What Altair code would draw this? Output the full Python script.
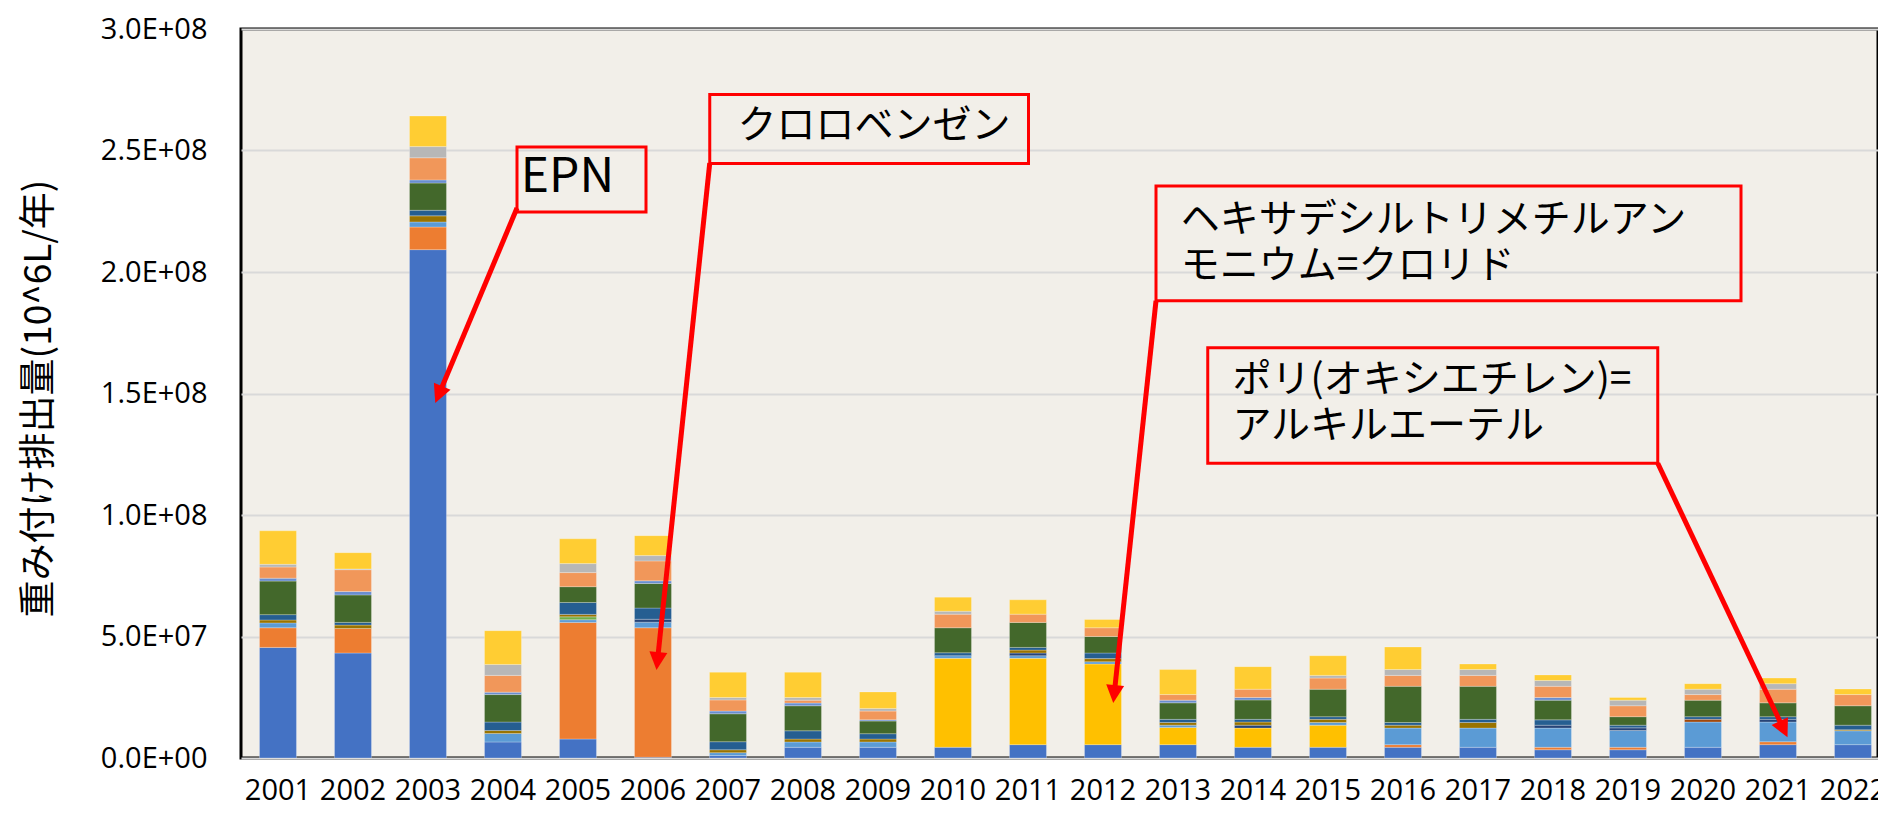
import json
import math
import altair as alt
import pandas as pd

# ---------------- data (values in 10^6 units, multiplied below) ----------------
years = [str(y) for y in range(2001, 2023)]

series_names = [
    "EPN", "クロロベンゼン", "系列3", "ヘキサデシルトリメチルアンモニウム=クロリド",
    "ポリ(オキシエチレン)=アルキルエーテル", "系列6", "系列7", "系列8", "系列9",
    "系列10", "系列11", "系列12", "系列13", "系列14", "系列15", "系列16",
]
series_colors = [
    "#4472C4", "#ED7D31", "#A5A5A5", "#FFC000", "#5B9BD5", "#70AD47", "#264478", "#9E480E",
    "#636363", "#997300", "#255E91", "#43682B", "#698ED0", "#F1975A", "#B7B7B7", "#FFCD33",
]

s01 = [45.5, 43.2, 209.2, 6.6, 7.8, 0.3, 1.0, 4.4, 4.4, 4.4, 5.5, 5.5, 5.5, 4.4, 4.4, 4.4, 4.4, 3.4, 3.4, 4.4, 5.5, 5.5]
s02 = [8.1, 10.1, 9.3, 0, 48.0, 53.3, 0, 0, 0, 0, 0, 0, 0, 0, 0, 1.1, 0, 1.0, 1.0, 0, 1.2, 0]
s03 = [0] * 22
s04 = [0, 0, 0, 0, 0, 0, 0, 0, 0, 36.6, 35.5, 33.2, 7.1, 7.9, 9.1, 0, 0, 0, 0, 0, 0, 0]
s05 = [2.0, 0, 2.1, 3.5, 1.1, 2.3, 1.2, 2.2, 2.2, 1.1, 1.1, 0.9, 0.9, 0, 1.1, 6.8, 7.9, 7.9, 6.9, 10.4, 8.1, 5.7]
s06 = [0, 0, 0, 0, 1.2, 0, 0, 0, 0, 0, 0, 0, 0, 0, 0, 0, 0, 0, 0, 0, 0, 0]
s07 = [0, 0, 0, 0, 0, 1.2, 0, 0, 0, 0, 1.1, 0, 0, 1.2, 0, 0, 0, 1.2, 1.1, 0, 1.1, 0]
s08 = [0, 0, 0, 0, 0, 0, 0, 0, 0, 0, 0, 0, 0, 0, 0, 0, 0, 0, 0, 1.1, 0, 0]
s09 = [0] * 22
s10 = [1.2, 1.4, 2.5, 1.2, 1.0, 0, 1.2, 1.2, 1.2, 0, 1.2, 1.3, 1.1, 1.3, 1.3, 1.2, 2.3, 0, 0, 0, 0, 0.4]
s11 = [2.2, 1.1, 2.3, 3.5, 4.9, 4.6, 3.3, 3.4, 2.2, 1.2, 1.1, 2.3, 1.3, 1.1, 1.1, 1.1, 1.3, 2.2, 1.1, 1.1, 1.1, 1.9]
s12 = [13.8, 11.3, 11.2, 11.3, 6.5, 10.1, 11.5, 10.3, 5.2, 10.3, 10.3, 6.8, 6.8, 8.0, 11.3, 14.9, 13.6, 8.1, 3.5, 6.8, 5.7, 8.0]
s13 = [1.2, 1.4, 1.3, 1.0, 0, 1.1, 1.1, 1.1, 0.5, 0, 0, 0, 1.1, 1.0, 0, 0, 0, 1.1, 0, 0, 0, 0]
s14 = [4.6, 9.0, 9.1, 6.9, 5.8, 8.2, 4.6, 1.2, 3.6, 5.6, 3.4, 3.6, 2.3, 3.4, 4.6, 4.5, 4.5, 4.6, 4.5, 2.3, 5.6, 4.6]
s15 = [1.1, 0.3, 4.6, 4.5, 3.7, 2.2, 1.0, 1.1, 1.1, 1.2, 0, 0, 0, 0, 1.1, 2.4, 2.4, 2.4, 2.3, 2.2, 2.3, 0]
s16 = [13.8, 6.7, 12.6, 13.9, 10.2, 8.2, 10.4, 10.4, 6.8, 5.8, 5.9, 3.4, 10.3, 9.3, 8.1, 9.3, 2.3, 2.3, 1.1, 2.3, 2.3, 2.3]
series_values = [s01, s02, s03, s04, s05, s06, s07, s08, s09, s10, s11, s12, s13, s14, s15, s16]
UNIT = 1e6

y_tick_values = [0, 5e7, 1e8, 1.5e8, 2e8, 2.5e8, 3e8]
y_tick_labels = ["0.0E+00", "5.0E+07", "1.0E+08", "1.5E+08", "2.0E+08", "2.5E+08", "3.0E+08"]
y_title = "重み付け排出量(10^6L/年)"

# annotations: x in band units (year i centre = i + 0.5), y in 10^6 units
box_x1 = [3.68, 6.25, 12.20, 12.89]
box_x2 = [5.40, 10.50, 20.00, 18.89]
box_y1 = [251.4, 273.0, 235.4, 168.8]
box_y2 = [224.7, 244.7, 188.2, 121.3]

text_lines = ["EPN", "クロロベンゼン", "ヘキサデシルトリメチルアン\nモニウム=クロリド",
              "ポリ(オキシエチレン)=\nアルキルエーテル"]
text_x = [3.73, 6.62, 12.53, 13.22]
text_y = [238.5, 260.0, 221.6, 155.6]
text_size = [48, 39, 39, 39]

arrow_x0 = [3.68, 6.25, 12.20, 18.89]
arrow_y0 = [226.3, 244.9, 188.2, 121.3]
arrow_x1 = [2.59, 5.54, 11.63, 20.62]
arrow_y1 = [146.1, 36.2, 22.6, 8.5]

# ---------------- layout ----------------
N = len(years)
STEP = 75.0          # px per year band
W = 1637             # visible plot width (last band runs to the page edge)
H = 729
P_IN = 0.507
P_OUT = (W / STEP - N + P_IN) / 2
ALIGN = (0.5 - P_IN / 2) * STEP / (W - STEP * (N - P_IN))
px_u = STEP
px_v = H / 300.0

rows = []
for k, (name, vals) in enumerate(zip(series_names, series_values)):
    for yr, v in zip(years, vals):
        if v > 0:
            rows.append({"year": yr, "series": name, "idx": k, "value": v * UNIT})
df = pd.DataFrame(rows)

box_df = pd.DataFrame({"x1": box_x1, "x2": box_x2,
                       "y1": [v * UNIT for v in box_y1], "y2": [v * UNIT for v in box_y2]})
text_df = pd.DataFrame({"t": text_lines, "x": text_x, "y": [v * UNIT for v in text_y],
                        "s": text_size})

line_rows, head_rows = [], []
for x0, y0, x1, y1 in zip(arrow_x0, arrow_y0, arrow_x1, arrow_y1):
    dxp = (x1 - x0) * px_u
    dyp = -(y1 - y0) * px_v
    L = math.hypot(dxp, dyp)
    ux, uy = dxp / L, dyp / L
    ex = x1 - ux * 12 / px_u
    ey = y1 + uy * 12 / px_v
    line_rows.append({"x0": x0, "y0": y0 * UNIT, "x1": ex, "y1": ey * UNIT})
    ang = (math.degrees(math.atan2(dxp, -dyp)) + 360) % 360
    head_rows.append({"x": x1, "y": y1 * UNIT, "angle": ang})
line_df = pd.DataFrame(line_rows)
head_df = pd.DataFrame(head_rows)

yscale = alt.Scale(domain=[0, 3e8], nice=False, zero=True)
qx = alt.Scale(domain=[0, W / STEP], nice=False, zero=False)

label_expr = f"{json.dumps(y_tick_labels)}[indexof({json.dumps(y_tick_values)}, datum.value)]"


def y_axis():
    return alt.Axis(values=y_tick_values, labelExpr=label_expr, labelFont="Open Sans",
                    labelFontSize=29, labelColor="#000000", labelPadding=34,
                    labelBaseline="middle", ticks=False, domain=False, grid=True,
                    gridColor="#D9D9D9", gridWidth=2,
                    title=y_title, titleFont="Noto Sans CJK JP", titleFontSize=37,
                    titleFontWeight="normal", titleColor="#000000", titleAngle=270,
                    titleX=-202, titleY=369, titleAlign="center", titleBaseline="middle")


bars = alt.Chart(df).mark_bar(stroke="#FFFFFF", strokeWidth=0.5, strokeOpacity=0.5).encode(
    x=alt.X("year:N", sort=years,
            scale=alt.Scale(paddingInner=P_IN, paddingOuter=P_OUT, align=ALIGN),
            axis=alt.Axis(title=None, labelAngle=0, labelFont="Open Sans", labelFontSize=29,
                          labelColor="#000000", labelPadding=32, labelBaseline="middle",
                          ticks=False, domain=False, grid=False)),
    y=alt.Y("value:Q", stack="zero", scale=yscale, axis=y_axis()),
    color=alt.Color("series:N", scale=alt.Scale(domain=series_names, range=series_colors), legend=None),
    order=alt.Order("idx:Q", sort="ascending"),
)

boxes = alt.Chart(box_df).mark_rect(fillOpacity=0, stroke="#FF0000", strokeWidth=3).encode(
    x=alt.X("x1:Q", scale=qx, axis=None), x2="x2:Q",
    y=alt.Y("y1:Q", scale=yscale, axis=y_axis()), y2="y2:Q",
)

texts = alt.Chart(text_df).mark_text(align="left", baseline="middle", font="Noto Sans CJK JP",
                                     color="#000000", lineBreak="\n", lineHeight=46.5).encode(
    x=alt.X("x:Q", scale=qx, axis=None),
    y=alt.Y("y:Q", scale=yscale, axis=y_axis()),
    text="t:N",
    size=alt.Size("s:Q", scale=None, legend=None),
)

lines = alt.Chart(line_df).mark_rule(color="#FF0000", strokeWidth=5).encode(
    x=alt.X("x0:Q", scale=qx, axis=None), x2="x1:Q",
    y=alt.Y("y0:Q", scale=yscale, axis=y_axis()), y2="y1:Q",
)

heads = alt.Chart(head_df).mark_point(shape="M0,0L0.5,1L-0.5,1Z", filled=True, fill="#FF0000",
                                      opacity=1, size=1300, strokeWidth=0).encode(
    x=alt.X("x:Q", scale=qx, axis=None),
    y=alt.Y("y:Q", scale=yscale, axis=y_axis()),
    angle=alt.Angle("angle:Q", scale=None),
)

chart = alt.layer(bars, boxes, texts, lines, heads).resolve_scale(x="independent").properties(
    width=W, height=H,
    padding={"left": 233, "top": 21, "right": 0, "bottom": 48},
    autosize=alt.AutoSizeParams(type="none"),
).configure(background="#FFFFFF").configure_view(
    fill="#F2EFE9", stroke="#000000", strokeWidth=3
)

chart.save("out.html", embed_options={"renderer": "svg", "actions": False})
